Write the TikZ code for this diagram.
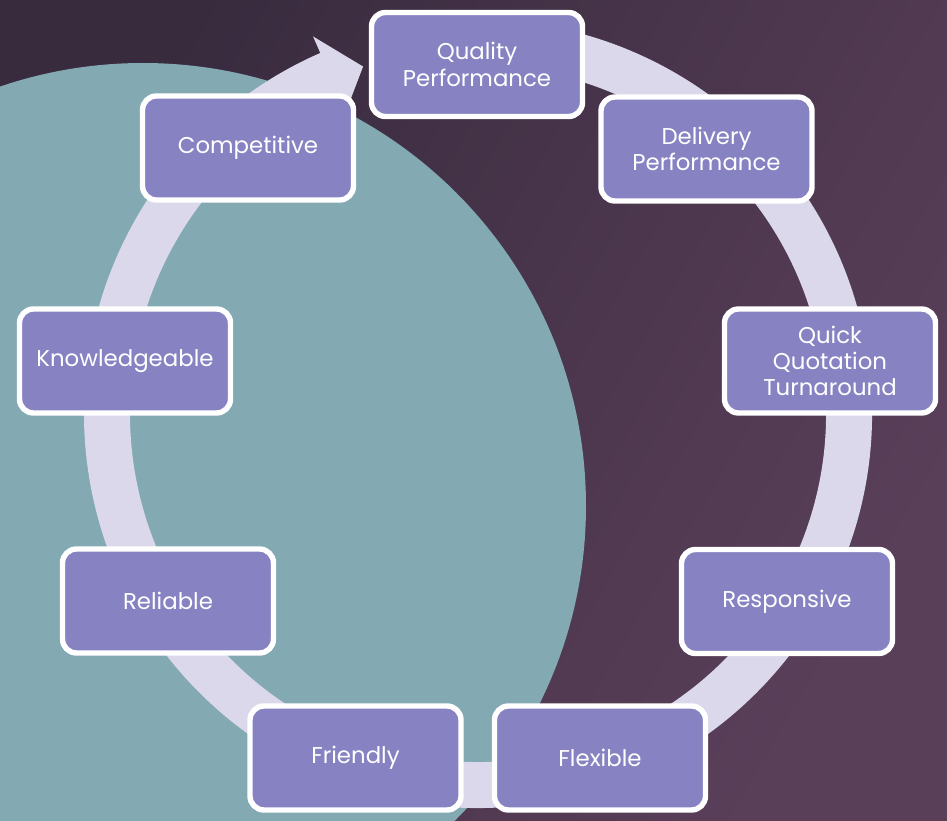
\documentclass[tikz,border=0pt]{standalone}
\usepackage{fontspec}
\setmainfont{Poppins}
\usetikzlibrary{calc}
\definecolor{bgdark}{HTML}{382B3E}
\definecolor{bglight}{HTML}{5A3F59}
\definecolor{tealdisc}{HTML}{83A9B2}
\definecolor{ringlav}{HTML}{DAD8EA}
\definecolor{boxpurple}{HTML}{8783C3}
\tikzset{
  every picture/.style={
    x=0.03cm, y=-0.03cm
  },
  stage/.style={
    rectangle, rounded corners=0.42cm, draw=white, line width=4.6pt,
    fill=boxpurple, text=white, align=center,
    minimum width=6.33cm, minimum height=3.12cm, inner sep=0pt,
    font=\fontsize{19.5}{22.5}\selectfont
  }
}
\begin{document}
\begin{tikzpicture}
  \useasboundingbox (0,0) rectangle (947,821);
  \shade[left color=bgdark, right color=bglight, shading angle=60] (0,0) rectangle (947,821);
  \begin{scope}
    \clip (0,0) rectangle (947,821);
    \fill[tealdisc] (143,506) circle[radius=443];
  \end{scope}
  % the cycle ring with its head
  \coordinate (ctr) at (478,414);
  \draw[ringlav, line width=1.38cm] ($(ctr)+(-100:371)$) arc[start angle=-100, end angle=246.6, radius=371];
  \fill[ringlav] ($(ctr)+(-113.6:412)$) -- ($(ctr)+(-108.3:366)$) -- ($(ctr)+(-113.6:330)$) -- cycle;
  % stages
  \node[stage] (quality) at (477,64.5) {Quality\\Performance};
  \node[stage] (delivery) at (706.5,149) {Delivery\\Performance};
  \node[stage] (quick) at (830,361) {Quick\\Quotation\\Turnaround};
  \node[stage] (responsive) at (787,601.5) {Responsive};
  \node[stage] (flexible) at (600,758) {Flexible};
  \node[stage] (friendly) at (355.5,758) {Friendly};
  \node[stage] (reliable) at (168,601) {Reliable};
  \node[stage] (knowledge) at (125,361) {Knowledgeable};
  \node[stage] (competitive) at (248,148) {Competitive};
\end{tikzpicture}
\end{document}
